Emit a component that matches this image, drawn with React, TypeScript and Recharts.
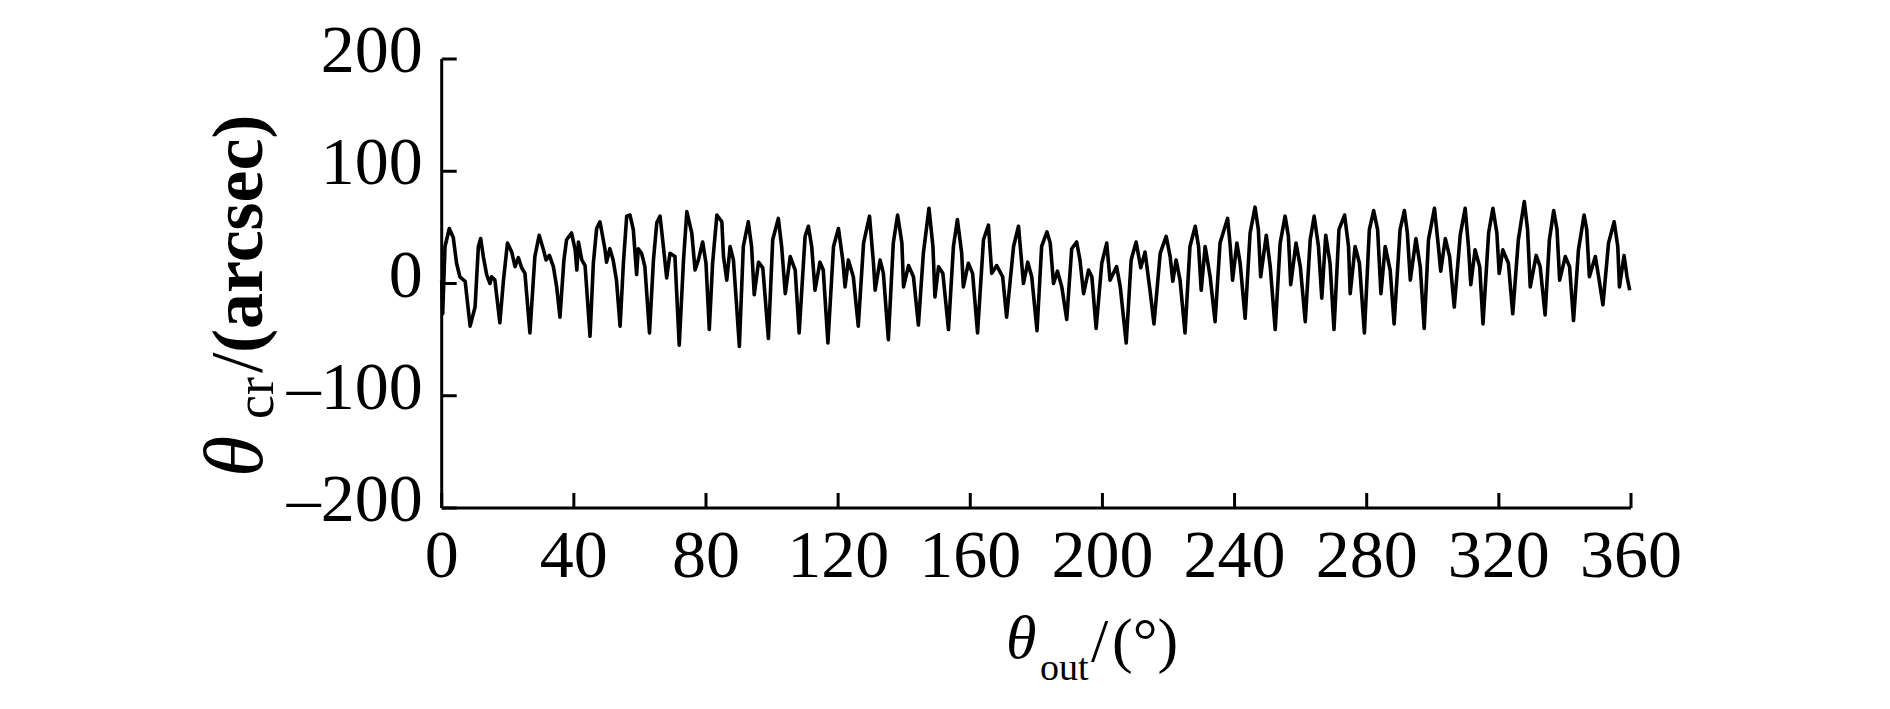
import { LineChart, Line, XAxis, YAxis } from "recharts";

// output angle (deg) and crossed-axis error (arcsec)
const angles = [
  0, 0.3, 1.0, 2.3, 3.5, 4.5, 5.5, 7.1, 8.6, 10.1, 11.1, 11.8, 12.6, 13.6, 14.6, 15.1, 16.1, 17.6, 18.7, 19.9,
  21.2, 22.2, 23.2, 24.2, 25.2, 26.7, 28.2, 29.5, 30.8, 31.6, 32.6, 33.8, 34.8, 35.8, 37.0, 37.8, 39.3, 40.4, 40.9, 41.4,
  42.4, 43.4, 44.9, 45.9, 46.9, 47.9, 49.4, 49.9, 50.9, 51.9, 52.9, 54.0, 55.0, 56.0, 57.0, 58.0, 59.0, 59.5, 60.5, 61.5,
  62.9, 64.1, 65.1, 66.1, 67.1, 68.1, 69.1, 70.6, 71.9, 73.2, 74.2, 75.7, 76.7, 77.7, 79.0, 80.0, 81.0, 82.0, 83.3, 84.8,
  85.3, 86.3, 87.3, 88.3, 89.3, 90.1,
  91.3, 92.8, 93.8, 94.6, 95.9, 97.2, 98.9, 100.2, 101.9, 102.9, 104.0, 105.5, 107.0, 108.2, 110.0, 111.0, 112.0, 113.0,
  114.5, 115.5, 116.9, 118.6, 120.1, 121.4, 122.1, 123.1, 124.6, 126.1, 127.7, 129.5, 130.7, 131.2, 132.7, 133.7, 135.2,
  136.7, 138.0, 139.3, 139.8, 141.3, 142.8, 144.3, 145.8, 147.5, 148.7, 149.3, 150.4, 151.7, 153.4, 154.9, 156.1, 157.4,
  157.9, 159.4, 160.7, 162.2, 164.0, 165.5, 166.5, 168.0, 169.8, 171.0, 173.1, 174.6, 176.1, 177.4, 178.6, 180.2,
  181.6, 183.2, 184.2, 185.2, 186.4, 187.7, 189.2, 190.7, 192.2, 193.2, 194.3, 195.8, 196.8, 198.1, 199.8, 201.3, 202.3,
  204.3, 205.4, 207.2, 208.7, 210.2, 211.6, 212.9, 214.4, 215.6, 217.5, 219.3, 220.5, 221.3, 222.3, 223.5, 225.0, 226.5,
  228.1, 229.1, 229.9, 231.1, 232.6, 234.1, 235.6, 237.9, 238.7, 239.4, 240.7, 241.7, 243.2, 244.7, 246.2, 247.2, 247.9,
  249.6, 250.8, 252.3, 253.8, 255.3, 256.3, 257.0, 258.6, 259.9, 261.4, 262.9, 264.1, 265.4, 266.4, 267.6, 268.9, 270.1,
  271.6, 273.3, 274.5, 275.0, 276.5, 277.8, 279.3, 280.8, 282.1, 283.3, 284.3, 285.6, 287.1, 288.3, 290.1, 291.4, 292.3,
  293.2, 294.9, 296.2, 297.4, 298.7, 300.5, 301.7, 302.4, 303.8, 305.1, 306.5, 308.3, 309.8, 310.8, 311.5, 312.8, 314.2,
  315.2, 316.9, 318.2, 319.4, 320.1, 321.2, 322.9, 324.2, 325.9, 327.7, 328.7, 329.5, 331.3, 332.5, 334.0, 335.3, 336.6,
  337.6, 338.4, 340.1, 341.4, 342.6, 344.1, 345.8, 346.6, 347.4, 349.2, 350.2, 351.5, 353.2, 354.9, 356.0, 356.5, 357.9,
  358.8, 359.6,
];

const theta = [
  3, -27, 33, 49, 41, 18, 6, 2, -38, -21, 33, 40, 24, 8, 0, 6, 3, -35, 3, 36,
  28, 15, 23, 14, 9, -44, 24, 43, 30, 21, 25, 15, -3, -30, 21, 39, 45, 30, 12, 37,
  21, 16, -47, 18, 49, 55, 31, 19, 31, 21, 3, -38, 18, 60, 61, 48, 8, 31, 27, 15,
  -44, 21, 54, 60, 33, 5, 27, 24, -55, 21, 64, 45, 12, 21, 37, 18, -41, 18, 61, 55,
  24, 3, 33, 21, -21, -56,
  33, 55, 33, -10, 19, 14, -49, 39, 58, 33, -9, 24, 12, -44, 42, 51, 33, -6,
  19, 12, -53, 33, 49, 21, -3, 21, 6, -38, 36, 60, 18, -6, 21, 9, -50,
  36, 61, 36, -3, 16, 6, -37, 27, 67, 33, -12, 15, 9, -41, 33, 57, 27,
  -3, 18, 9, -44, 39, 52, 9, 16, 6, -30, 33, 51, 0, 19, 6, -42,
  33, 46, 36, 0, 11, -3, -32, 31, 37, 21, -9, 12, 6, -40, 18, 36, 3,
  15, -3, -53, 21, 37, 14, 28, -6, -36, 27, 42, 24, 2, 21, 3, -44, 33,
  51, 33, -6, 33, 6, -34, 36, 58, 33, 3, 36, 18, -31, 45, 68, 48, 6,
  43, 15, -41, 36, 60, 42, -1, 36, 15, -34, 39, 60, 33, -13, 43, 18, -41,
  48, 61, 33, -9, 33, 18, -44, 48, 65, 48, -9, 33, 12, -36, 48, 65, 45,
  3, 40, 15, -40, 39, 67, 33, 11, 40, 24, -21, 43, 67, 33, -1, 30, 15,
  -36, 45, 67, 45, 9, 30, 18, -27, 39, 73, 48, -3, 25, 15, -28, 39, 65,
  48, 3, 24, 15, -33, 30, 61, 48, 6, 24, 6, -19, 36, 55, 33, -3, 25,
  6, -6,
];

const xTicks = [0, 40, 80, 120, 160, 200, 240, 280, 320, 360];
const yTicks = [-200, -100, 0, 100, 200];

const data = angles.map((a, i) => ({ angle: a, theta: theta[i] }));

const FONT = "'Liberation Serif', 'Times New Roman', serif";

const fmt = (v: number) => (v < 0 ? `\u2013${Math.abs(v)}` : `${v}`);

function YTick(props: any) {
  const { x, y, payload } = props;
  return (
    <g>
      <line x1={x} x2={x + 15} y1={y} y2={y} stroke="#000" strokeWidth={3} />
      <text x={x - 19} y={y + 13} textAnchor="end" fontFamily={FONT} fontSize={68} fill="#000">
        {fmt(payload.value)}
      </text>
    </g>
  );
}

function XTick(props: any) {
  const { x, y, payload } = props;
  return (
    <g>
      <line x1={x} x2={x} y1={y} y2={y - 15} stroke="#000" strokeWidth={3} />
      <text x={x} y={y + 69} textAnchor="middle" fontFamily={FONT} fontSize={68} fill="#000">
        {payload.value}
      </text>
    </g>
  );
}

export default function App() {
  return (
    <div style={{ position: "absolute", left: 0, top: 0, width: 1890, height: 709, background: "#fff" }}>
      <LineChart
        width={1890}
        height={709}
        data={data}
        margin={{ top: 59, right: 259, bottom: 121, left: 341.7 }}
      >
        <XAxis
          dataKey="angle"
          type="number"
          domain={[0, 360]}
          ticks={xTicks}
          interval={0}
          height={80}
          tickSize={0}
          tickMargin={0}
          axisLine={{ stroke: "#000", strokeWidth: 3 }}
          tick={<XTick />}
        />
        <YAxis
          type="number"
          domain={[-200, 200]}
          ticks={yTicks}
          interval={0}
          width={100}
          tickSize={0}
          tickMargin={0}
          axisLine={{ stroke: "#000", strokeWidth: 3 }}
          tick={<YTick />}
        />
        <Line
          type="linear"
          dataKey="theta"
          stroke="#000"
          strokeWidth={3.6}
          strokeLinejoin="round"
          dot={false}
          isAnimationActive={false}
        />
      </LineChart>
      <svg
        width={1890}
        height={709}
        style={{ position: "absolute", left: 0, top: 0, pointerEvents: "none" }}
        fontFamily={FONT}
      >
        {/* x axis title */}
        <text x={1006} y={658} fontSize={62} fontStyle="italic">θ</text>
        <text x={1040} y={680} fontSize={38}>out</text>
        <text x={1091} y={661} fontSize={62}>/</text>
        <text x={1112} y={661} fontSize={62}>(°)</text>
        {/* y axis title */}
        <g transform="translate(262,477) rotate(-90)">
          <text x={0} y={0} fontSize={84} fontStyle="italic">θ</text>
          <text x={58} y={11} fontSize={54}>cr</text>
          <text x={104} y={0} fontSize={74}>/</text>
          <text x={124} y={0} fontSize={72} fontWeight="bold">(arcsec)</text>
        </g>
      </svg>
    </div>
  );
}
